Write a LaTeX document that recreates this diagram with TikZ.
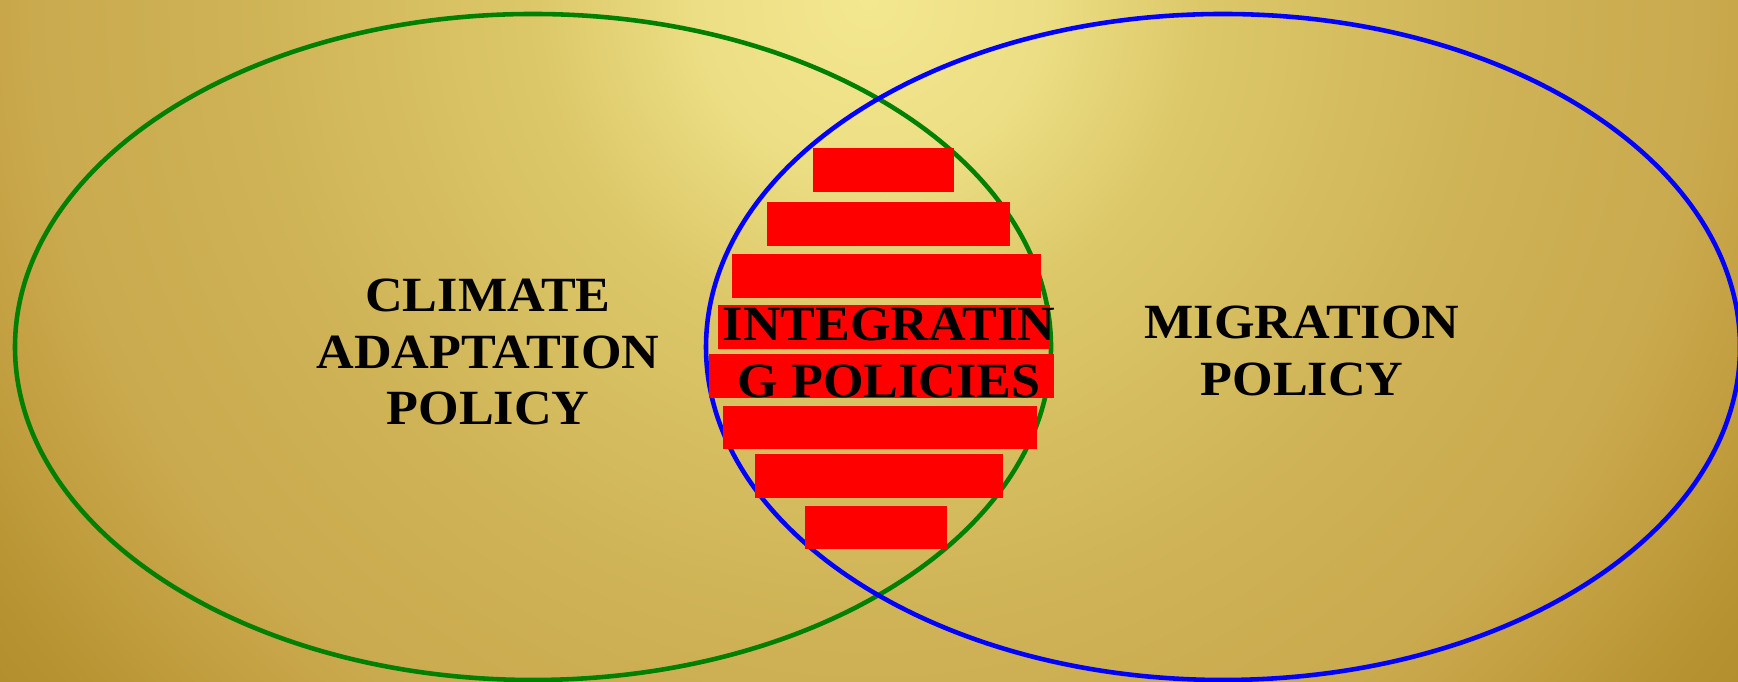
\documentclass[tikz,border=0pt]{standalone}
\usepackage{fontspec}
\setmainfont[FakeStretch=1.06]{Liberation Serif}
\usepackage{xcolor}
\definecolor{goldlight}{RGB}{243,231,144}
\definecolor{goldpale}{RGB}{236,222,132}
\definecolor{goldmid}{RGB}{220,200,105}
\definecolor{goldlow}{RGB}{206,178,85}
\definecolor{goldside}{RGB}{202,170,78}
\definecolor{goldedge}{RGB}{197,162,68}
\definecolor{golddark}{RGB}{182,146,48}
\definecolor{goldcorner}{RGB}{180,143,46}
\definecolor{venngreen}{RGB}{0,128,0}
\definecolor{vennblue}{RGB}{0,0,255}
\definecolor{barred}{RGB}{255,0,0}
\pgfdeclareradialshading{goldbg}{\pgfpointorigin}{color(0bp)=(goldlight); color(3.8bp)=(goldpale); color(7.2bp)=(goldmid); color(13.9bp)=(goldlow); color(18.2bp)=(goldside); color(19.7bp)=(goldedge); color(23bp)=(golddark); color(24bp)=(goldcorner); color(50bp)=(goldcorner)}

\begin{document}
\begin{tikzpicture}[
    venn/.style={line width=1.3pt},
    redbar/.style={fill=barred},
    policytext/.style={align=center, inner sep=0pt,
      font=\fontsize{14}{16.2}\selectfont\bfseries}
  ]
      \useasboundingbox (0, 0) rectangle (17.38, 6.82);
      % background, round glow from the top middle
      \begin{scope}
        \clip (0, 0) rectangle (17.38, 6.82);
        \shade[shading=goldbg] (-2.81, -4.68) rectangle (20.19, 18.32);
      \end{scope}

      \draw[venn, venngreen] (5.33, 3.35) ellipse (5.18 and 3.33);
      \draw[venn, vennblue] (12.23, 3.35) ellipse (5.17 and 3.33);

      % stripes in the overlap
      \fill[redbar] (8.13, 5.34) rectangle (9.54, 4.90);
      \fill[redbar] (7.67, 4.80) rectangle (10.10, 4.36);
      \fill[redbar] (7.32, 4.28) rectangle (10.41, 3.84);
      \fill[redbar] (7.18, 3.77) rectangle (10.50, 3.33);
      \fill[redbar] (7.09, 3.28) rectangle (10.54, 2.84);
      \fill[redbar] (7.23, 2.76) rectangle (10.37, 2.33);
      \fill[redbar] (7.55, 2.28) rectangle (10.03, 1.84);
      \fill[redbar] (8.05, 1.76) rectangle (9.47, 1.33);

      \node[policytext] (climate) at (4.88, 3.30)
        {CLIMATE\\ADAPTATION\\POLICY};
      \node[policytext] (migration) at (13.02, 3.31)
        {MIGRATION\\POLICY};
      \node[policytext] (integrating) at (8.89, 3.295)
        {INTEGRATIN\\G POLICIES};
    \end{tikzpicture}
\end{document}
